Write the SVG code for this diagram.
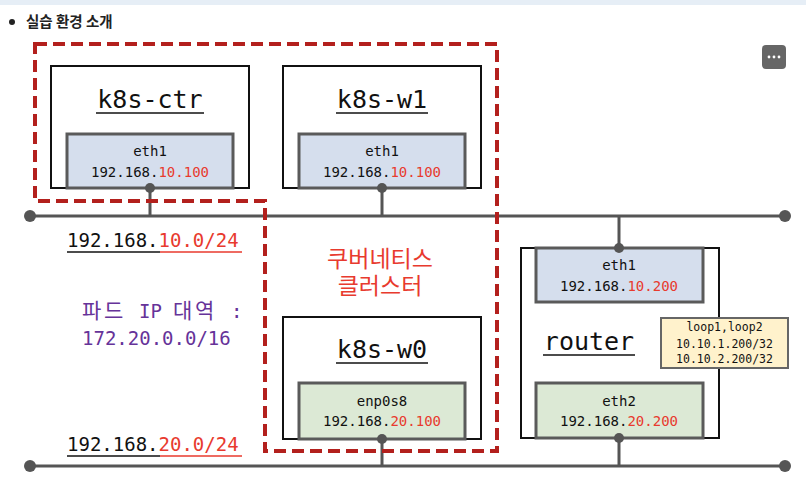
<svg xmlns="http://www.w3.org/2000/svg" width="806" height="481" viewBox="0 0 806 481">
<style>
.mono{font-family:"DejaVu Sans Mono","Noto Sans CJK KR",monospace}
.host{fill:#fff;stroke:#111;stroke-width:2}
.ifb{fill:#d5deed;stroke:#5a5a5a;stroke-width:3}
.ifg{fill:#dce9d5;stroke:#5a5a5a;stroke-width:3}
.title{font-size:25px;fill:#111;text-anchor:middle}
.ifname{font-size:14px;fill:#111;text-anchor:middle}
.red{fill:#e83a2e}
.wire{stroke:#555;stroke-width:3;fill:none}
.dot{fill:#555}
.net{font-size:19px;fill:#111}
</style>
<rect x="0" y="0" width="806" height="481" fill="#fff"/>
<rect x="0" y="0" width="806" height="5" fill="#e6eef6"/>
<circle cx="12" cy="22" r="3" fill="#222"/>
<text x="26" y="27" font-family="'Noto Sans CJK KR','Noto Sans',sans-serif" font-size="14.5" font-weight="600" fill="#222">실습 환경 소개</text>
<g id="menu"><rect x="762" y="45" width="24" height="24" rx="4" fill="#666"/><circle cx="769" cy="57" r="1.4" fill="#fff"/><circle cx="774" cy="57" r="1.4" fill="#fff"/><circle cx="779" cy="57" r="1.4" fill="#fff"/></g>

<g id="connectors">
<line class="wire" x1="30" y1="216" x2="785" y2="216"/>
<line class="wire" x1="30" y1="466" x2="785" y2="466"/>
<circle class="dot" cx="30" cy="216" r="6"/>
<circle class="dot" cx="785" cy="216" r="6"/>
<circle class="dot" cx="30" cy="466" r="6"/>
<circle class="dot" cx="785" cy="466" r="6"/>
<line class="wire" x1="150" y1="188" x2="150" y2="216"/>
<line class="wire" x1="382" y1="188" x2="382" y2="216"/>
<line class="wire" x1="382" y1="439" x2="382" y2="466"/>
<line class="wire" x1="619" y1="216" x2="619" y2="248"/>
<line class="wire" x1="619" y1="438" x2="619" y2="466"/>
</g>

<g id="cluster">
<path d="M35 44 H497 V451 H265 V201 H35 Z" fill="none" stroke="#b3201d" stroke-width="4" stroke-dasharray="12 6"/>
<text class="mono" x="380" y="267" font-size="23" fill="#e83a2e" text-anchor="middle">쿠버네티스</text>
<text class="mono" x="380" y="294" font-size="23" fill="#e83a2e" text-anchor="middle">클러스터</text>
</g>

<g id="k8s-ctr">
<rect class="host" x="51" y="66" width="198" height="122"/>
<text class="mono title" x="150" y="108">k8s-ctr</text>
<line x1="96" y1="113" x2="204" y2="113" stroke="#111" stroke-width="1.5"/>
<rect class="ifb" x="67" y="134" width="166" height="54"/>
<text class="mono ifname" x="150" y="156">eth1</text>
<text class="mono ifname" x="150" y="177">192.168.<tspan class="red">10.100</tspan></text>
<circle class="dot" cx="150" cy="188" r="5"/>
</g>

<g id="k8s-w1">
<rect class="host" x="283" y="66" width="198" height="122"/>
<text class="mono title" x="382" y="108">k8s-w1</text>
<line x1="336" y1="113" x2="428" y2="113" stroke="#111" stroke-width="1.5"/>
<rect class="ifb" x="299" y="134" width="166" height="54"/>
<text class="mono ifname" x="382" y="156">eth1</text>
<text class="mono ifname" x="382" y="177">192.168.<tspan class="red">10.100</tspan></text>
<circle class="dot" cx="382" cy="188" r="5"/>
</g>

<g id="k8s-w0">
<rect class="host" x="283" y="317" width="198" height="122"/>
<text class="mono title" x="382" y="358">k8s-w0</text>
<line x1="336" y1="363" x2="428" y2="363" stroke="#111" stroke-width="1.5"/>
<rect class="ifg" x="299" y="383" width="166" height="56"/>
<text class="mono ifname" x="382" y="406">enp0s8</text>
<text class="mono ifname" x="382" y="426">192.168.<tspan class="red">20.100</tspan></text>
<circle class="dot" cx="382" cy="439" r="5"/>
</g>

<g id="router">
<rect class="host" x="521" y="248" width="198" height="190"/>
<rect class="ifb" x="536" y="248" width="167" height="54"/>
<text class="mono ifname" x="619" y="270">eth1</text>
<text class="mono ifname" x="619" y="291">192.168.<tspan class="red">10.200</tspan></text>
<text class="mono title" x="589" y="350">router</text>
<line x1="543" y1="355" x2="635" y2="355" stroke="#111" stroke-width="1.5"/>
<rect class="ifg" x="536" y="383" width="167" height="55"/>
<text class="mono ifname" x="619" y="406">eth2</text>
<text class="mono ifname" x="619" y="426">192.168.<tspan class="red">20.200</tspan></text>
<circle class="dot" cx="619" cy="248" r="5"/>
<circle class="dot" cx="619" cy="438" r="5"/>
</g>

<g id="loop">
<rect x="661" y="318" width="127" height="50" fill="#fff2cc" stroke="#666" stroke-width="2"/>
<text class="mono" x="724.5" y="331" font-size="11.5" fill="#111" text-anchor="middle">loop1,loop2</text>
<text class="mono" x="724.5" y="348" font-size="11.5" fill="#111" text-anchor="middle">10.10.1.200/32</text>
<text class="mono" x="724.5" y="363" font-size="11.5" fill="#111" text-anchor="middle">10.10.2.200/32</text>
</g>

<g id="net10">
<text class="mono net" x="67" y="247">192.168.<tspan class="red">10.0/24</tspan></text>
<line x1="67" y1="252" x2="160" y2="252" stroke="#111" stroke-width="1.5"/>
<line x1="160" y1="252" x2="242" y2="252" stroke="#e83a2e" stroke-width="1.5"/>
</g>
<g id="pod">
<text class="mono" y="318" font-size="19" fill="#663399"><tspan x="82" font-size="21">파</tspan><tspan x="104" font-size="21">드</tspan><tspan x="139">IP</tspan><tspan x="173" font-size="21">대</tspan><tspan x="195" font-size="21">역</tspan><tspan x="231">:</tspan></text>
<text class="mono" x="82" y="345" font-size="19" fill="#663399">172.20.0.0/16</text>
</g>
<g id="net20">
<text class="mono net" x="67" y="451">192.168.<tspan class="red">20.0/24</tspan></text>
<line x1="67" y1="456" x2="160" y2="456" stroke="#111" stroke-width="1.5"/>
<line x1="160" y1="456" x2="242" y2="456" stroke="#e83a2e" stroke-width="1.5"/>
</g>
</svg>
